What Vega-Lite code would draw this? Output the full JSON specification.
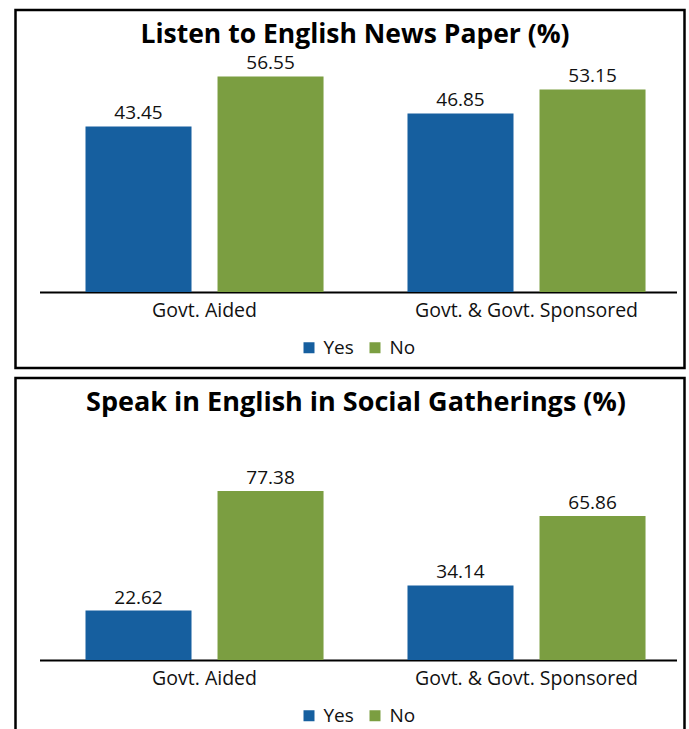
{
  "$schema": "https://vega.github.io/schema/vega-lite/v6.json",
  "padding": {"left": 13.5, "top": 8, "right": 0, "bottom": 0},
  "spacing": 6,
  "config": {
    "font": "Open Sans",
    "view": {"stroke": "#000000", "strokeWidth": 2.5},
    "title": {"font": "Open Sans", "fontSize": 26.5, "fontWeight": "bold", "color": "#000000", "anchor": "middle", "baseline": "alphabetic", "offset": -38, "dx": 5},
    "axisX": {"domainColor": "#000000", "domainWidth": 2, "ticks": false, "labelFontSize": 19.5, "labelColor": "#111111", "labelPadding": 9, "labelLimit": 0, "title": null, "labelAngle": 0, "offset": -76, "grid": false},
    "legend": {"orient": "none", "direction": "horizontal", "legendX": 284, "legendY": 328, "padding": 0, "symbolType": "square", "symbolSize": 121, "symbolStrokeWidth": 0, "labelFontSize": 19, "labelColor": "#111111", "labelOffset": 5, "columnPadding": 11, "title": null}
  },
  "vconcat": [
    {
      "title": {"text": "Listen to English News Paper (%)"},
      "width": 669,
      "height": 358,
      "data": {"values": [
        {"group": "Govt. Aided", "answer": "Yes", "value": 43.45},
        {"group": "Govt. Aided", "answer": "No", "value": 56.55},
        {"group": "Govt. & Govt. Sponsored", "answer": "Yes", "value": 46.85},
        {"group": "Govt. & Govt. Sponsored", "answer": "No", "value": 53.15}
      ]},
      "encoding": {
        "x": {"field": "group", "type": "nominal", "sort": ["Govt. Aided", "Govt. & Govt. Sponsored"], "scale": {"range": [24, 661], "paddingInner": 0.1, "paddingOuter": 0.03915, "align": 0.798}, "axis": {}},
        "xOffset": {"field": "answer", "type": "nominal", "sort": ["Yes", "No"], "scale": {"paddingInner": 0.197, "paddingOuter": 0.196}},
        "y": {"field": "value", "type": "quantitative", "scale": {"domain": [-19.96, 74.0], "nice": false, "zero": false}, "axis": null}
      },
      "layer": [
        {
          "mark": {"type": "bar"},
          "encoding": {
            "color": {"field": "answer", "type": "nominal", "sort": ["Yes", "No"], "scale": {"domain": ["Yes", "No"], "range": ["#165f9f", "#7b9e41"]}, "legend": {}}
          }
        },
        {
          "mark": {"type": "text", "baseline": "alphabetic", "dy": -7, "fontSize": 19, "color": "#111111"},
          "encoding": {"text": {"field": "value", "type": "quantitative", "format": ".2f"}}
        }
      ]
    },
    {
      "title": {"text": "Speak in English in Social Gatherings (%)", "dx": 6, "fontSize": 27, "offset": -39},
      "width": 669,
      "height": 358,
      "data": {"values": [
        {"group": "Govt. Aided", "answer": "Yes", "value": 22.62},
        {"group": "Govt. Aided", "answer": "No", "value": 77.38},
        {"group": "Govt. & Govt. Sponsored", "answer": "Yes", "value": 34.14},
        {"group": "Govt. & Govt. Sponsored", "answer": "No", "value": 65.86}
      ]},
      "encoding": {
        "x": {"field": "group", "type": "nominal", "sort": ["Govt. Aided", "Govt. & Govt. Sponsored"], "scale": {"range": [24, 661], "paddingInner": 0.1, "paddingOuter": 0.03915, "align": 0.798}, "axis": {}},
        "xOffset": {"field": "answer", "type": "nominal", "sort": ["Yes", "No"], "scale": {"paddingInner": 0.197, "paddingOuter": 0.196}},
        "y": {"field": "value", "type": "quantitative", "scale": {"domain": [-34.78, 129.06], "nice": false, "zero": false}, "axis": null}
      },
      "layer": [
        {
          "mark": {"type": "bar"},
          "encoding": {
            "color": {"field": "answer", "type": "nominal", "sort": ["Yes", "No"], "scale": {"domain": ["Yes", "No"], "range": ["#165f9f", "#7b9e41"]}, "legend": {}}
          }
        },
        {
          "mark": {"type": "text", "baseline": "alphabetic", "dy": -7, "fontSize": 19, "color": "#111111"},
          "encoding": {"text": {"field": "value", "type": "quantitative", "format": ".2f"}}
        }
      ]
    }
  ],
  "resolve": {"scale": {"y": "independent", "x": "independent", "xOffset": "independent", "color": "shared"}, "legend": {"color": "independent"}}
}
